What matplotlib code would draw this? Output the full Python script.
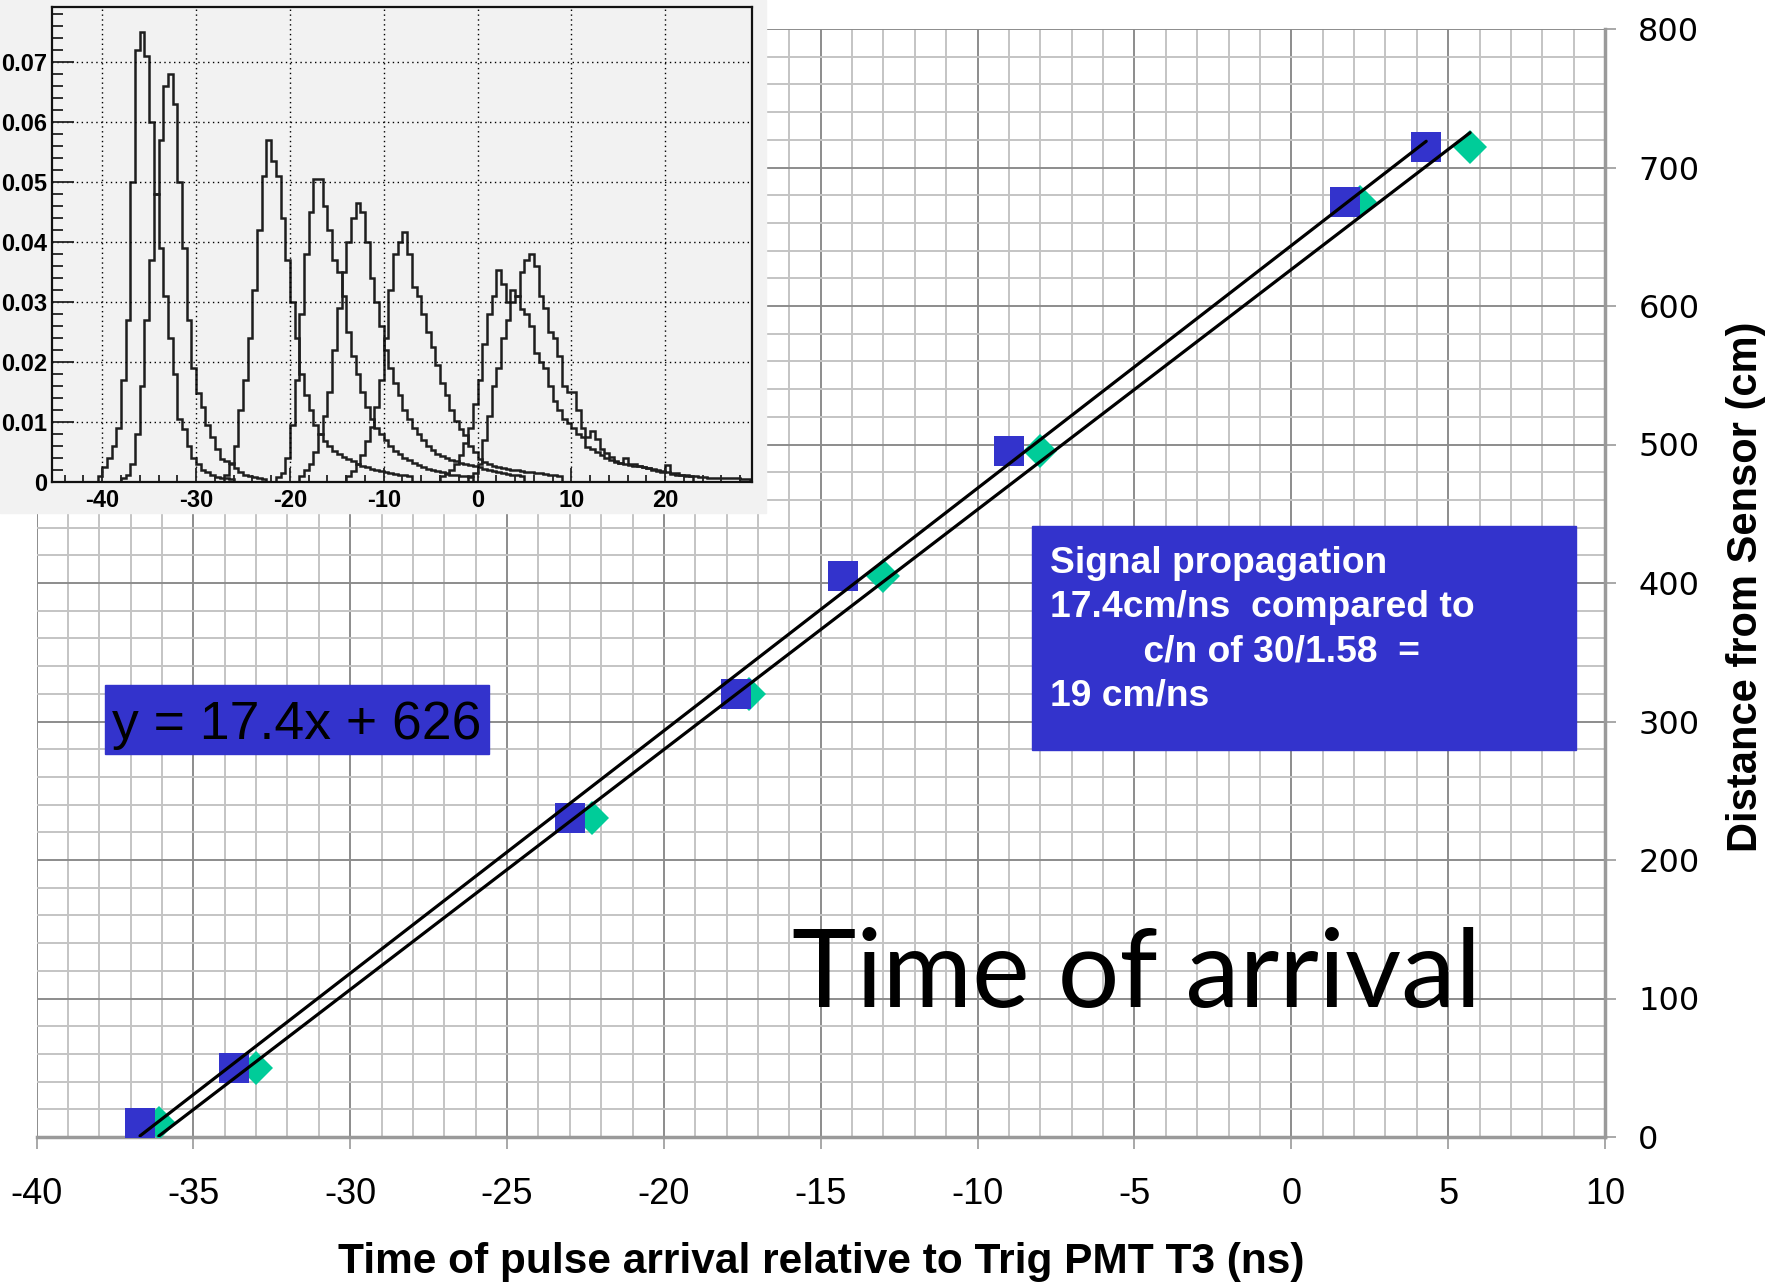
import matplotlib
matplotlib.use("Agg")
import matplotlib.pyplot as plt
import matplotlib.patches as mpatches
import numpy as np

plt.rcParams['font.family'] = ['Liberation Sans', 'DejaVu Sans']
plt.rcParams['axes.unicode_minus'] = False

# main chart: pulse arrival time (ns) vs distance from sensor (cm)
blue_t = [-36.7, -33.7, -23.0, -17.7, -14.3, -9.0, 1.7, 4.3]
green_t = [-36.1, -33.0, -22.3, -17.3, -13.0, -8.0, 2.2, 5.7]
dist = [10, 50, 230, 320, 405, 495, 675, 715]

# inset histograms, 0.5 ns bins; each list starts at the edge given in hist_start
hist_lo, hist_hi, hist_bw = -45.0, 29.5, 0.5
hist_start = [-40.5, -38.0, -27.0, -21.5, -19.0, -14.0, -4.0, -1.0]
h1 = [0.001, 0.0025, 0.004, 0.006, 0.009, 0.017, 0.027, 0.050, 0.072, 0.075, 0.071, 0.060,
      0.048, 0.039, 0.031, 0.024, 0.018, 0.0105, 0.0088, 0.006, 0.004, 0.003, 0.002, 0.0016,
      0.0011, 0.0008, 0.0007, 0.0006, 0.0005]
h2 = [0.0006, 0.0012, 0.003, 0.008, 0.016, 0.027, 0.037, 0.048, 0.057, 0.066, 0.068, 0.063,
      0.050, 0.039, 0.027, 0.019, 0.0148, 0.0125, 0.0095, 0.0075, 0.0055, 0.0038, 0.0034,
      0.0032, 0.0023, 0.0016, 0.0012, 0.001, 0.0008, 0.0006, 0.0005]
h3 = [0.0012, 0.003, 0.006, 0.012, 0.017, 0.024, 0.032, 0.042, 0.051, 0.057, 0.0536, 0.051,
      0.044, 0.037, 0.030, 0.024, 0.018, 0.0145, 0.012, 0.0095, 0.008, 0.0068, 0.006, 0.0052,
      0.0047, 0.0042, 0.0038, 0.0034, 0.003, 0.0027, 0.0024, 0.0022, 0.002, 0.0018, 0.0016,
      0.0015, 0.0013, 0.0012, 0.0011, 0.001]
h4 = [0.0008, 0.0015, 0.004, 0.0095, 0.017, 0.028, 0.038, 0.045, 0.0505, 0.0505, 0.046, 0.042,
      0.037, 0.035, 0.031, 0.025, 0.021, 0.018, 0.015, 0.0125, 0.0105, 0.009, 0.008, 0.007,
      0.006, 0.0052, 0.0046, 0.004, 0.0036, 0.0032, 0.0028, 0.0025, 0.0022, 0.002, 0.0018,
      0.0016, 0.0014, 0.0012, 0.0011, 0.001, 0.0009, 0.0008]
h5 = [0.001, 0.002, 0.003, 0.005, 0.008, 0.011, 0.015, 0.022, 0.029, 0.035, 0.040, 0.044,
      0.0466, 0.045, 0.040, 0.034, 0.030, 0.026, 0.022, 0.019, 0.0165, 0.0145, 0.012, 0.0105,
      0.009, 0.008, 0.007, 0.006, 0.0053, 0.0047, 0.0043, 0.004, 0.0037, 0.0034, 0.0032,
      0.003, 0.0028, 0.0026, 0.0024, 0.0022, 0.002, 0.0018, 0.0016, 0.0015, 0.0013, 0.0012,
      0.0011, 0.001]
h6 = [0.001, 0.0018, 0.003, 0.0045, 0.0068, 0.0092, 0.0125, 0.017, 0.024, 0.032, 0.038, 0.040,
      0.0417, 0.038, 0.0325, 0.031, 0.028, 0.025, 0.0225, 0.0195, 0.0165, 0.0145, 0.012,
      0.0102, 0.0088, 0.0078, 0.006, 0.005, 0.0038, 0.0033, 0.003, 0.0027, 0.0025, 0.0023,
      0.0021, 0.002, 0.0019, 0.0018, 0.0017, 0.0016, 0.0015, 0.0014, 0.0013, 0.0012, 0.0011,
      0.001]
h7 = [0.001, 0.0013, 0.002, 0.003, 0.0045, 0.0065, 0.009, 0.013, 0.017, 0.023, 0.028, 0.031,
      0.0354, 0.033, 0.030, 0.032, 0.031, 0.0288, 0.028, 0.026, 0.0215, 0.020, 0.019, 0.016,
      0.0135, 0.012, 0.0105, 0.0098, 0.009, 0.008, 0.0075, 0.0058, 0.0054, 0.005, 0.0045,
      0.004, 0.0036, 0.0033, 0.0032, 0.003, 0.0028, 0.0027, 0.0026, 0.0025, 0.0023, 0.0021,
      0.002, 0.0018, 0.0017, 0.0015, 0.0014, 0.0012, 0.0011, 0.001]
h8 = [0.001, 0.0015, 0.003, 0.007, 0.011, 0.016, 0.019, 0.024, 0.027, 0.030, 0.031, 0.035,
      0.037, 0.038, 0.036, 0.031, 0.029, 0.025, 0.024, 0.021, 0.016, 0.015, 0.015, 0.012,
      0.009, 0.0075, 0.0085, 0.0072, 0.0055, 0.0048, 0.0042, 0.0035, 0.0032, 0.004, 0.003,
      0.0029, 0.0027, 0.0024, 0.0023, 0.002, 0.0018, 0.0017, 0.0028, 0.0013, 0.0012, 0.0011,
      0.001, 0.0009, 0.0009, 0.0008, 0.0008, 0.0007, 0.0007, 0.0007, 0.0006, 0.0006, 0.0006,
      0.0006, 0.0005, 0.0005]
hists = [h1, h2, h3, h4, h5, h6, h7, h8]

box_lines = ["Signal propagation",
             "17.4cm/ns  compared to",
             "         c/n of 30/1.58  =",
             "19 cm/ns"]

BLUE = '#3333CC'
GREEN = '#00CC99'
W, H = 1787, 1284


def fx(px):
    return px / W


def fy(py):
    return 1 - py / H


fig = plt.figure(figsize=(W / 100, H / 100), dpi=100)
fig.patch.set_facecolor('white')

# ---- main chart
ax = fig.add_axes([fx(36.5), fy(1137), fx(1605) - fx(36.5), fy(29) - fy(1137)])
ax.set_xlim(-40, 10)
ax.set_ylim(0, 800)
ax.set_xticks(np.arange(-40, 11, 5))
ax.set_xticks(np.arange(-40, 11, 1), minor=True)
ax.set_yticks(np.arange(0, 801, 100))
ax.set_yticks(np.arange(0, 801, 20), minor=True)
ax.grid(which='minor', color='#c4c4c4', lw=1.4)
ax.grid(which='major', color='#8c8c8c', lw=1.4)
ax.set_axisbelow(True)

ax.plot(green_t, dist, ls='none', marker='D', ms=17.8, color=GREEN, mew=0, zorder=3)
ax.plot(blue_t, dist, ls='none', marker='s', ms=22, color=BLUE, mew=0, zorder=4)

# linear trendlines over each series' range
for t in (blue_t, green_t):
    k, b = np.polyfit(t, dist, 1)
    xs = np.array([min(t), max(t)])
    ax.plot(xs, k * xs + b, color='black', lw=2.3, solid_capstyle='round', zorder=5)

for s in ('left', 'top'):
    ax.spines[s].set_visible(False)
for s in ('bottom', 'right'):
    ax.spines[s].set_color('#9a9a9a')
    ax.spines[s].set_linewidth(2.5)

ax.yaxis.tick_right()
ax.tick_params(which='minor', length=0)
ax.tick_params(axis='x', which='major', direction='out', length=8.5, width=1.2,
               color='#9a9a9a', labelsize=26, pad=20)
ax.tick_params(axis='y', which='major', direction='out', length=8, width=1.2,
               color='#9a9a9a', labelsize=23, pad=16)
for lbl in ax.get_yticklabels():
    lbl.set_fontfamily('DejaVu Sans')

ax.set_xlabel("Time of pulse arrival relative to Trig PMT T3 (ns)", fontsize=30.5,
              fontweight='bold', va='center')
ax.xaxis.set_label_coords(0.5, (1137 - 1262) / 1108)
ax.yaxis.set_label_position('right')
ax.set_ylabel("Distance from Sensor (cm)", fontsize=30, fontweight='bold',
              rotation=90, va='center')
ax.yaxis.set_label_coords((1746 - 36.5) / 1568.5, (1137 - 587) / 1108)

# ---- annotation boxes
fig.add_artist(mpatches.Rectangle((fx(105), fy(754.3)), fx(489) - fx(105), fy(685) - fy(754.3),
                                  transform=fig.transFigure, color=BLUE, zorder=6))
fig.text(fx(112), fy(739.3), "y = 17.4x + 626", fontsize=38.5, color='black',
         va='baseline', ha='left', zorder=7)

fig.add_artist(mpatches.Rectangle((fx(1031.8), fy(750)), fx(1575.7) - fx(1031.8),
                                  fy(526) - fy(750), transform=fig.transFigure,
                                  color=BLUE, zorder=6))
for i, line in enumerate(box_lines):
    fig.text(fx(1050), fy(572.7 + 44.4 * i), line, fontsize=26.8, fontweight='bold',
             color='white', va='baseline', ha='left', zorder=7)

fig.text(fx(792), fy(1006.7), "Time of arrival", fontsize=78.5, family='Lato',
         color='black', va='baseline', ha='left', zorder=7)

# ---- inset (ROOT histogram screenshot)
fig.add_artist(mpatches.Rectangle((0, fy(513)), fx(766), 1 - fy(513),
                                  transform=fig.transFigure, color='#f2f2f2', zorder=8))
axi = fig.add_axes([fx(51.6), fy(481.7), fx(751.5) - fx(51.6), fy(7.3) - fy(481.7)],
                   zorder=9)
axi.set_facecolor('#f2f2f2')
edges = np.arange(hist_lo, hist_hi + 1e-9, hist_bw)
for start, h in zip(hist_start, hists):
    vals = np.zeros(len(edges) - 1)
    i0 = int(round((start - hist_lo) / hist_bw))
    vals[i0:i0 + len(h)] = h[:len(vals) - i0]
    axi.stairs(vals, edges, color='#1e1e1e', lw=1.8)
axi.set_xlim(-45.4, 29.2)
axi.set_ylim(0, 0.0792)
axi.set_xticks(np.arange(-40, 21, 10))
axi.set_xticks(np.arange(-44, 29, 2), minor=True)
axi.set_yticks(np.arange(0, 0.071, 0.01))
axi.set_yticks(np.arange(0, 0.079, 0.002), minor=True)
axi.set_yticklabels(['0', '0.01', '0.02', '0.03', '0.04', '0.05', '0.06', '0.07'])
axi.grid(which='major', color='black', lw=1, ls=(0, (1, 2.5)))
axi.tick_params(which='both', direction='in', color='#222222', width=1.3)
axi.tick_params(axis='y', which='major', length=16, labelsize=17, pad=3)
axi.tick_params(axis='y', which='minor', length=8)
axi.tick_params(axis='x', which='major', length=10, labelsize=17, pad=5)
axi.tick_params(axis='x', which='minor', length=5)
for lbl in axi.get_xticklabels() + axi.get_yticklabels():
    lbl.set_fontweight('bold')
for s in axi.spines.values():
    s.set_color('#111111')
    s.set_linewidth(1.6)

fig.savefig("out.png", dpi=100, facecolor='white')
